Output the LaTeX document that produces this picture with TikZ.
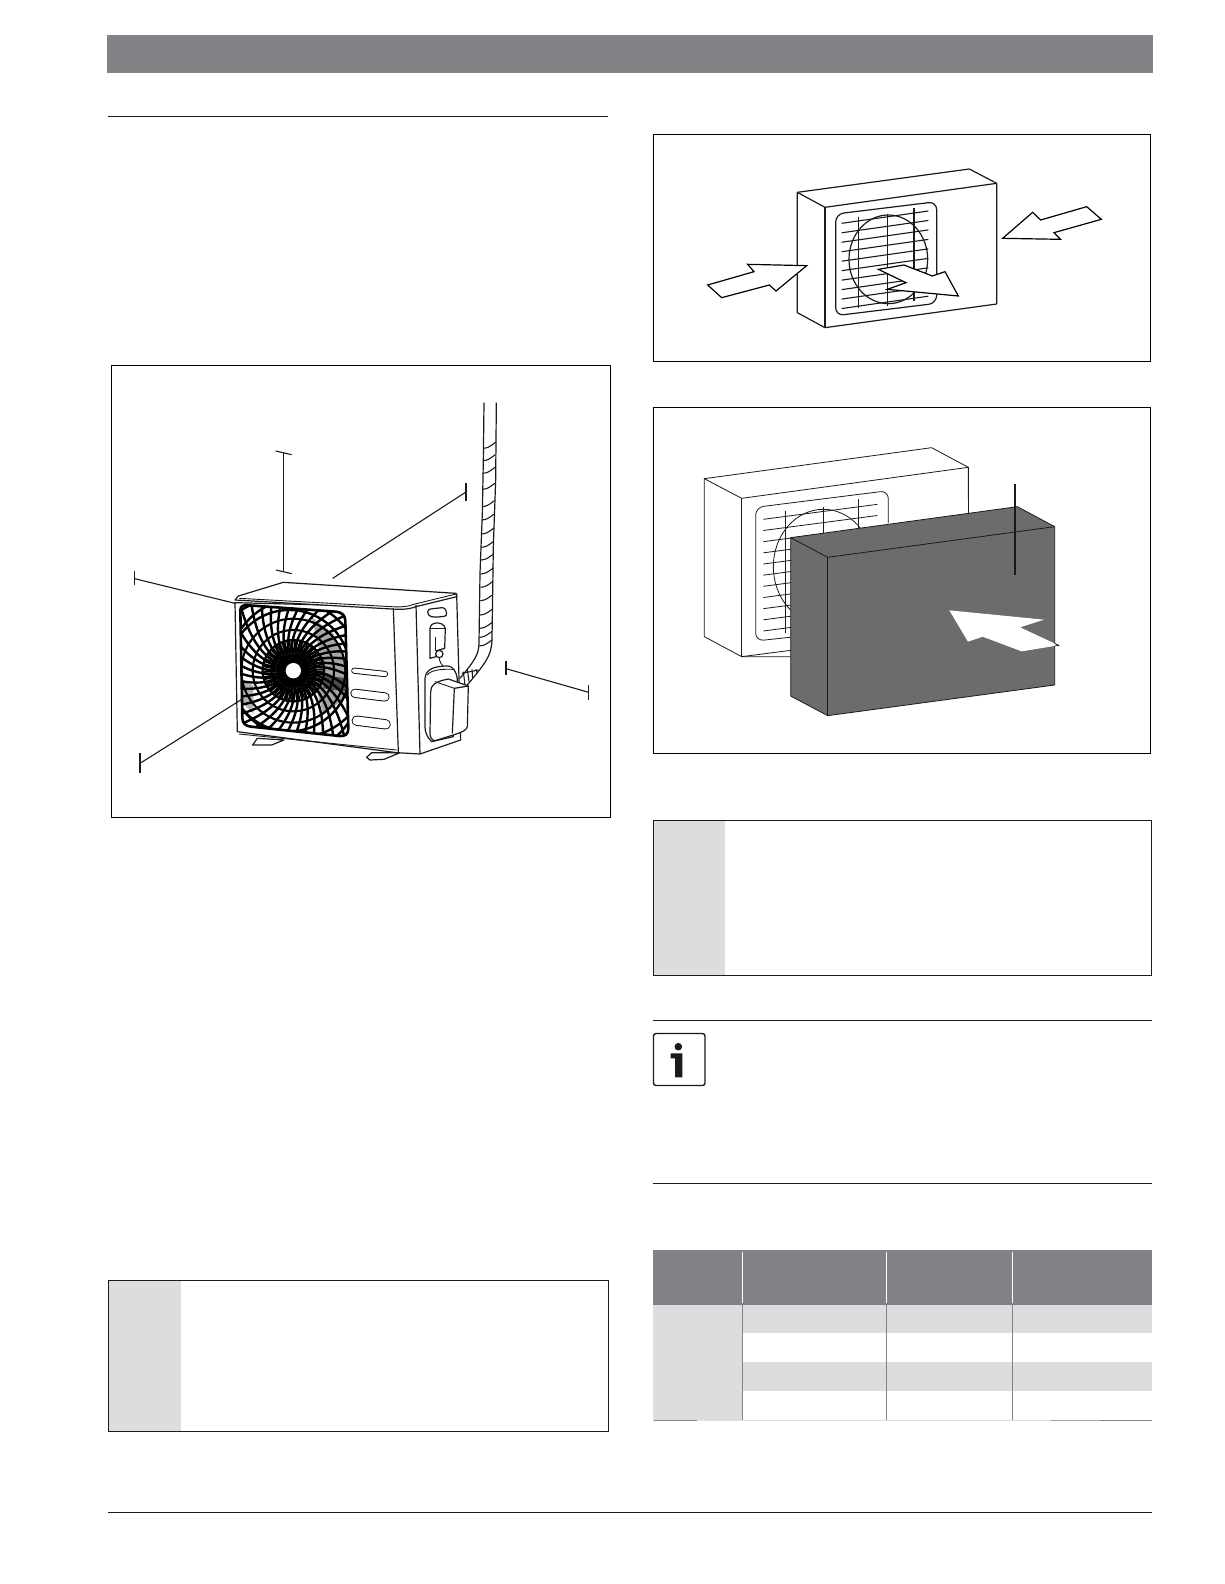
\documentclass[tikz,border=0pt]{standalone}
\definecolor{barg}{HTML}{808285}
\definecolor{lightg}{HTML}{DCDDDE}
\definecolor{boxg}{HTML}{6D6C6B}
\definecolor{ink}{HTML}{1A1A1A}
\tikzset{
  framebox/.style={draw=black,line width=0.9pt},
  notebox/.style={draw=ink,line width=0.9pt},
  rulerline/.style={draw=ink,line width=0.9pt},
  leader/.style={draw=ink,line width=1.1pt},
  thinline/.style={draw=ink,line width=0.8pt},
  unitline/.style={draw=ink,line width=1.2pt,line join=round},
  tblline/.style={draw=barg,line width=1pt},
  blockarrow/.style={draw=black,fill=white,line width=1.2pt,line join=miter}
}
\newcommand{\grillepath}{(361,691) .. controls (361,678) and (371,674) .. (386,676) -- (648,695) .. controls (668,697) and (675,707) .. (676,722) -- (685,1045) .. controls (685,1062) and (676,1070) .. (658,1068) -- (393,1040) .. controls (376,1038) and (368,1030) .. (367,1015) -- cycle}
\newcommand{\pill}[5]{\draw[black,line width=#5pt+1.2pt,line cap=round] (#1,#2) -- (#3,#4); \draw[white,line width=#5pt-0.6pt,line cap=round] (#1,#2) -- (#3,#4);}
\begin{document}
\begin{tikzpicture}[x=1pt,y=-1pt]
\useasboundingbox (0,0) rectangle (1224,1584);
\fill[white] (0,0) rectangle (1224,1584);
% header and rules
\fill[barg] (107,35) rectangle (1153,73);
\draw[rulerline] (108,116) -- (608,116);
\draw[rulerline] (108,1512) -- (1152,1512);
\draw[rulerline] (653,1020) -- (1152,1020);
\draw[rulerline] (653,1183) -- (1152,1183);
% frames
\draw[framebox] (111.5,365.5) rectangle (610,817);
\draw[framebox] (653.5,134) rectangle (1150,361.5);
\draw[framebox] (653.5,407) rectangle (1150,753.5);
% note boxes
\fill[lightg] (109,1281) rectangle (181,1431);
\draw[notebox] (108.5,1280.5) rectangle (608.5,1431);
\fill[lightg] (654,820.5) rectangle (725,975.5);
\draw[notebox] (653.5,820) rectangle (1151.5,975.5);
% info icon
\draw[ink,line width=1.4pt,rounded corners=2.5pt] (653.5,1033.5) rectangle (705,1085.5);
\fill[ink] (678.3,1046.7) circle (3.8);
\fill[ink] (670.7,1053.3) -- (682.3,1053.3) -- (682.3,1077.3) -- (675,1077.3) -- (675,1058.3) -- (670.7,1058.3) -- cycle;
% table
\fill[barg] (653,1250) rectangle (1152,1304.7);
\fill[lightg] (653,1304.7) rectangle (742.3,1420);
\fill[lightg] (742.3,1304.7) rectangle (1152,1332.7);
\fill[lightg] (742.3,1362) rectangle (1152,1390.7);
\draw[white,line width=0.8pt] (742.3,1251.7) -- (742.3,1302.7);
\draw[white,line width=0.8pt] (886.3,1251.7) -- (886.3,1302.7);
\draw[white,line width=0.8pt] (1012.3,1251.7) -- (1012.3,1302.7);
\draw[tblline] (742.3,1304.7) -- (742.3,1420);
\draw[tblline] (886.3,1304.7) -- (886.3,1420);
\draw[tblline] (1012.3,1304.7) -- (1012.3,1420);
\draw[black!12,line width=0.9pt] (653,1420.5) -- (1152,1420.5);
\draw[barg,line width=0.9pt] (654,1420.5) -- (697,1420.5);
\draw[barg!70,line width=0.9pt] (1050,1420.5) -- (1100,1420.5);
\draw[barg,line width=0.9pt] (1100,1420.5) -- (1152,1420.5);

% ---------- Figure 1 ----------
\begin{scope}[shift={(120,380)},scale=1/3]
% leaders
\draw[leader] (491,218) -- (491,576);
\draw[leader] (467,213) -- (515,224);
\draw[leader] (468,570) -- (515,581);
\draw[leader] (638,595) -- (1038,336);
\draw[leader,line width=1.5pt] (1038,310) -- (1038,362);
\draw[leader] (44,596) -- (345,670);
\draw[leader] (44,572) -- (44,616);
\draw[leader,line width=1.6pt] (60,1118) -- (60,1180);
\draw[leader] (1158,866) -- (1406,937);
\draw[leader,line width=1.5pt] (1158,842) -- (1158,886);
\draw[leader] (1406,916) -- (1406,960);
% pipe
\draw[unitline] (1092,68) -- (1090,240) -- (1087,400) -- (1080,580) -- (1077,790) .. controls (1076,825) and (1065,840) .. (1020,895);
\draw[unitline] (1129,68) -- (1127,300) -- (1120,500) -- (1116,780) .. controls (1114,830) and (1095,850) .. (1042,915);
\foreach \yy in {195,232,270,318,370,410,452,492,530,572,612,652,695,735,762,788}{
  \pgfmathsetmacro{\xl}{1092-(\yy-68)*0.019}
  \pgfmathsetmacro{\xr}{1129-(\yy-68)*0.018}
  \draw[unitline,line width=1.1pt] (\xl,\yy+10) .. controls (\xl+15,\yy+8) .. (\xr,\yy-8);
}
\draw[unitline,line width=1.1pt] (1030,875) -- (1035,915);
\draw[unitline,line width=1.1pt] (1042,868) -- (1047,905);
\draw[unitline,line width=1.1pt] (1056,868) -- (1058,895);
\draw[unitline,line width=1.1pt] (1068,868) -- (1072,880);
\draw[unitline,line width=1.1pt] (1025,880) -- (1075,870);
% feet
\draw[unitline,fill=white] (398,1095) -- (412,1075) -- (492,1080) -- (455,1095) -- cycle;
\draw[unitline,fill=white] (740,1132) -- (755,1118) -- (840,1118) -- (792,1138) -- (750,1140) -- cycle;
% body
\draw[unitline,fill=white] (345,668) -- (352,1055) -- (830,1118) -- (900,1122) -- (1022,1080) -- (1010,642) -- (888,672) -- (820,680) -- cycle;
\draw[unitline,fill=white] (355,648) -- (490,607) -- (1008,640) -- (1010,650) -- (888,680) .. controls (860,690) and (840,688) .. (815,687) -- (345,660) -- cycle;
\draw[unitline,line width=0.9pt] (358,655) -- (815,680) .. controls (840,682) and (865,680) .. (885,672) -- (1008,642);
\draw[unitline] (820,685) -- (835,1116);
\draw[unitline] (888,675) -- (900,1122);
\draw[unitline,line width=0.9pt] (357,1062) -- (830,1110);
% slots
\pill{703}{872}{795}{882}{5}
\pill{705}{940}{795}{951}{8}
\pill{710}{1022}{797}{1033}{9}
% grille
\begin{scope}
\clip \grillepath;
\fill[white] \grillepath;
\fill[black!35] (575,712) -- (640,760) -- (680,860) -- (680,950) -- (610,1005) -- (590,930) -- (600,820) -- cycle;
\fill[black!70] (610,885) -- (680,895) -- (680,935) -- (610,925) -- cycle;
\fill[black!30] (368,905) -- (400,915) -- (400,1000) -- (368,970) -- cycle;
\begin{scope}[shift={(520,872)}]
\foreach \a in {0,8.5,...,352}{
  \draw[black,line width=2.4pt] ({\a}:55) .. controls ({\a+4}:110) and ({\a+12}:170) .. ({\a+30}:285);
}
\foreach \a in {0,5,...,355}{
  \draw[black,line width=1.6pt] ({\a}:30) -- ({\a+3}:95);
}
\foreach \r in {66,92,122,156}{
  \draw[black,line width=2.1pt] (0,0) circle (\r);
}
\draw[black,line width=2.4pt] (-12,0) circle (182);
\draw[black,line width=2.4pt] (15,-8) circle (208);
\draw[black,line width=2.4pt] (-30,20) circle (238);
\fill[black] (0,0) circle (50);
\fill[white] (0,0) circle (23);
\end{scope}
\end{scope}
\draw[black,line width=2.6pt,line join=round] \grillepath;
\draw[leader] (60,1150) -- (370,955);
% valve
\draw[unitline,fill=white,rounded corners=3pt] (922,688) -- (975,682) -- (982,708) -- (945,712) -- (925,708) -- cycle;
\draw[unitline,fill=white] (930,745) .. controls (930,725) and (970,722) .. (976,745) -- (974,805) -- (950,812) -- (948,830) -- (930,835) -- cycle;
\draw[unitline,line width=0.9pt] (945,770) -- (945,812);
\draw[unitline,fill=white] (958,822) circle (11);
\draw[unitline,line width=0.9pt] (930,745) -- (976,745);
\draw[unitline,line width=0.9pt] (957,832) .. controls (960,860) and (985,870) .. (1005,882);
% cover
\draw[unitline,fill=white] (915,895) .. controls (918,868) and (940,858) .. (985,858) .. controls (1000,860) and (1008,875) .. (1012,895) -- (1000,1070) -- (935,1085) .. controls (920,1070) and (915,1055) .. (915,1040) -- cycle;
\draw[unitline,line width=0.9pt] (922,885) .. controls (930,872) and (960,866) .. (1000,868);
\draw[unitline,fill=white] (932,935) .. controls (932,915) and (945,905) .. (985,897) -- (1045,918) -- (1042,1040) .. controls (1040,1050) and (1030,1055) .. (1000,1065) -- (945,1082) .. controls (935,1082) and (930,1070) .. (930,1060) -- cycle;
\draw[unitline] (1003,925) -- (997,1060);
\draw[unitline] (1003,925) -- (1045,918);
\draw[unitline,line width=0.9pt] (945,905) -- (1003,925);
\end{scope}

% ---------- Figure 2 ----------
\begin{scope}[shift={(680,150)},scale=1/3]
\draw[unitline,fill=white] (352,127) -- (868,57) -- (950,100) -- (950,462) -- (435,533) -- (352,488) -- cycle;
\draw[unitline] (352,127) -- (435,172) -- (950,100);
\draw[unitline] (435,172) -- (435,533);
\draw[unitline,rounded corners=8pt] (467,192) -- (770,155) -- (770,460) -- (467,497) -- cycle;
\foreach \k in {0,...,9}{
  \pgfmathsetmacro{\yl}{220+\k*28.4}
  \draw[thinline,line width=1.1pt] (485,\yl) -- (745,\yl-37);
}
\draw[thinline] (535,200) -- (535,475);
\draw[thinline] (623,192) -- (623,468);
\draw[unitline,line width=1.8pt] (702,175) -- (702,452);
\draw[unitline] (625,328) ellipse [x radius=118,y radius=133];
\draw[blockarrow] (83,405) -- (222,365) -- (203,343) -- (380,347) -- (288,423) -- (268,405) -- (125,443) -- cycle;
\draw[blockarrow] (968,265) -- (1058,187) -- (1082,210) -- (1220,170) -- (1264,208) -- (1122,248) -- (1142,268) -- cycle;
\draw[blockarrow] (595,358) -- (672,345) -- (757,378) -- (795,365) -- (835,438) -- (622,418) -- (678,398) -- cycle;
\end{scope}

% ---------- Figure 3 ----------
\begin{scope}[shift={(680,430)},scale=1/3]
\draw[thinline,fill=white] (73,146) -- (755,53) -- (865,112) -- (865,300) -- (500,680) -- (185,680) -- (73,620) -- cycle;
\draw[thinline] (73,146) -- (185,205) -- (865,112);
\draw[thinline] (185,205) -- (185,680);
\draw[thinline,rounded corners=8pt] (227,232) -- (625,182) -- (625,590) -- (227,633) -- cycle;
\foreach \k in {0,...,10}{
  \pgfmathsetmacro{\yl}{268+\k*33.5}
  \draw[thinline] (250,\yl) -- (592,\yl-45);
}
\draw[thinline] (316,243) -- (316,608);
\draw[thinline] (430,230) -- (430,590);
\draw[thinline] (535,208) -- (535,570);
\draw[thinline] (430,410) ellipse [x radius=150,y radius=172];
\fill[white] (750,230) -- (1000,180) -- (1000,600) -- (400,700) -- (340,700) -- (340,670) -- (600,290) -- cycle;
\draw[thinline] (865,112) -- (865,250);
\draw[thinline] (185,680) -- (340,660);
\draw[thinline,fill=boxg] (332,323) -- (1012,230) -- (1124,290) -- (1124,765) -- (443,857) -- (332,798) -- cycle;
\draw[thinline] (332,323) -- (443,382) -- (1124,290);
\draw[thinline] (443,382) -- (443,857);
\draw[ink,line width=1.5pt] (1005,162) -- (1005,435);
\fill[white] (808,541) -- (1092,569) -- (1020,592) -- (1136,646) -- (1025,664) -- (908,620) -- (864,635) -- cycle;
\draw[thinline] (1124,640) -- (1136,646) -- (1124,648);
\end{scope}
\end{tikzpicture}
\end{document}
